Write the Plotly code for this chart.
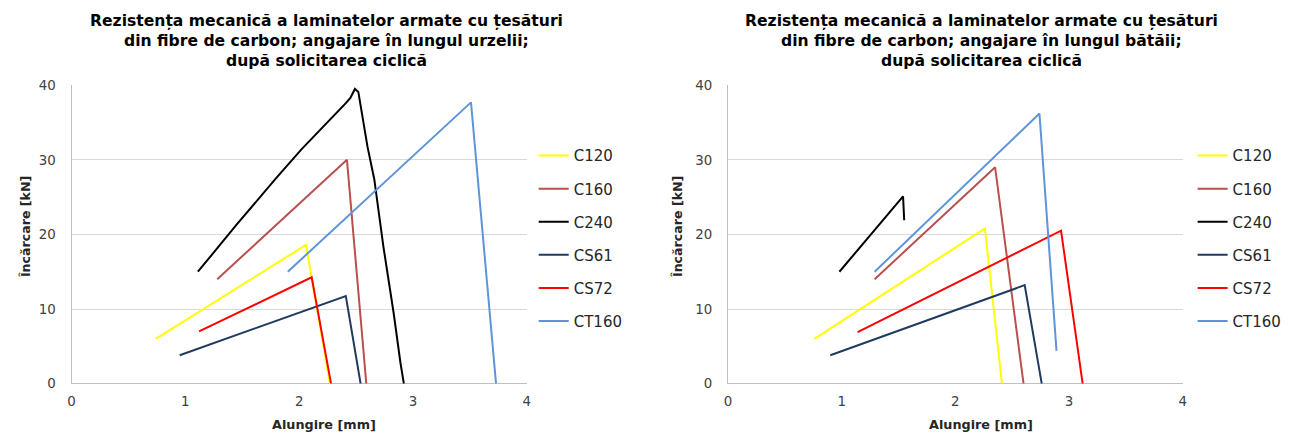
import plotly.graph_objects as go

# Load-elongation curves (elongation in mm, load in kN)
series_names = ["C120", "C160", "C240", "CS61", "CS72", "CT160"]

# Warp direction (left panel)
warp_c120_x = [0.74, 2.06, 2.27]
warp_c120_y = [6.0, 18.6, 0.0]
warp_c160_x = [1.28, 2.42, 2.59]
warp_c160_y = [14.0, 30.0, 0.0]
warp_c240_x = [1.11, 1.45, 1.79, 2.02, 2.41, 2.45, 2.49, 2.52, 2.60, 2.66, 2.74, 2.83, 2.89, 2.92]
warp_c240_y = [15.0, 21.3, 27.4, 31.4, 37.6, 38.3, 39.5, 39.1, 31.8, 27.4, 18.4, 9.5, 2.8, 0.0]
warp_cs61_x = [0.95, 2.41, 2.54]
warp_cs61_y = [3.8, 11.75, 0.0]
warp_cs72_x = [1.12, 2.11, 2.28]
warp_cs72_y = [7.0, 14.25, 0.0]
warp_ct160_x = [1.90, 3.51, 3.73]
warp_ct160_y = [15.0, 37.7, 0.0]

# Weft direction (right panel)
weft_c120_x = [0.76, 2.26, 2.41]
weft_c120_y = [6.0, 20.8, 0.0]
weft_c160_x = [1.29, 2.35, 2.60]
weft_c160_y = [14.0, 29.0, 0.0]
weft_c240_x = [0.98, 1.54, 1.55]
weft_c240_y = [15.0, 25.1, 21.9]
weft_cs61_x = [0.90, 2.61, 2.76]
weft_cs61_y = [3.8, 13.2, 0.0]
weft_cs72_x = [1.14, 2.93, 3.12]
weft_cs72_y = [6.9, 20.5, 0.0]
weft_ct160_x = [1.29, 2.74, 2.89]
weft_ct160_y = [15.0, 36.2, 4.4]

x_ticks = [0, 1, 2, 3, 4]
y_ticks = [0, 10, 20, 30, 40]

colors = ["#FFFF00", "#B9504D", "#000000", "#1F3B60", "#FF0000", "#5E95D9"]

warp = [(warp_c120_x, warp_c120_y), (warp_c160_x, warp_c160_y), (warp_c240_x, warp_c240_y),
        (warp_cs61_x, warp_cs61_y), (warp_cs72_x, warp_cs72_y), (warp_ct160_x, warp_ct160_y)]
weft = [(weft_c120_x, weft_c120_y), (weft_c160_x, weft_c160_y), (weft_c240_x, weft_c240_y),
        (weft_cs61_x, weft_cs61_y), (weft_cs72_x, weft_cs72_y), (weft_ct160_x, weft_ct160_y)]

title_left = ["Rezistența mecanică a laminatelor armate cu țesături",
              "din fibre de carbon; angajare în lungul urzelii;",
              "după solicitarea ciclică"]
title_right = ["Rezistența mecanică a laminatelor armate cu țesături",
               "din fibre de carbon; angajare în lungul bătăii;",
               "după solicitarea ciclică"]
x_title = "Alungire [mm]"
y_title = "Încărcare [kN]"

W, H = 1296, 438
FONT = "DejaVu Sans, Liberation Sans, sans-serif"

fig = go.Figure()

for i, (name, (xs, ys)) in enumerate(zip(series_names, warp)):
    fig.add_trace(go.Scatter(x=xs, y=ys, mode="lines", name=name,
                             line=dict(color=colors[i], width=2),
                             xaxis="x", yaxis="y", legend="legend",
                             legendgroup="a" + name))
for i, (name, (xs, ys)) in enumerate(zip(series_names, weft)):
    fig.add_trace(go.Scatter(x=xs, y=ys, mode="lines", name=name,
                             line=dict(color=colors[i], width=2),
                             xaxis="x2", yaxis="y2", legend="legend2",
                             legendgroup="b" + name))

def px_x(p):
    return p / W

def px_y(p):
    return 1 - p / H

y_dom = [px_y(390), px_y(81)]

axis_common = dict(range=[0, 4], tickvals=x_ticks, showgrid=False, zeroline=False,
                   showline=False, ticks="", ticklabelstandoff=8,
                   tickfont=dict(family=FONT, size=13.4, color="#404040"), fixedrange=True)
yaxis_common = dict(range=[0, 40], tickvals=y_ticks, showgrid=True, gridcolor="#D9D9D9",
                    gridwidth=1, zeroline=True, zerolinecolor="#BFBFBF", zerolinewidth=1,
                    showline=True, linecolor="#BFBFBF", linewidth=1, ticks="",
                    ticklabelstandoff=12,
                    tickfont=dict(family=FONT, size=13.4, color="#404040"), fixedrange=True)

legend_common = dict(font=dict(family=FONT, size=15, color="#262626"),
                     bgcolor="rgba(0,0,0,0)", borderwidth=0, tracegroupgap=10.6,
                     traceorder="grouped", xanchor="left", yanchor="top",
                     itemclick=False, itemdoubleclick=False)

fig.update_layout(
    width=W, height=H,
    margin=dict(l=0, r=0, t=0, b=0),
    paper_bgcolor="white", plot_bgcolor="white",
    xaxis=dict(domain=[px_x(68), px_x(526)], anchor="y", **axis_common),
    yaxis=dict(domain=y_dom, anchor="x", **yaxis_common),
    xaxis2=dict(domain=[px_x(728.5), px_x(1186)], anchor="y2", **axis_common),
    yaxis2=dict(domain=y_dom, anchor="x2", **yaxis_common),
    legend=dict(x=px_x(533), y=px_y(137), **legend_common),
    legend2=dict(x=px_x(1196), y=px_y(137), **legend_common),
)

annotations = []
title_rows = [14, 35, 56]
for cx, lines in ((324, title_left), (984, title_right)):
    for k, line in enumerate(lines):
        annotations.append(dict(text="<b>%s</b>" % line, x=px_x(cx), y=px_y(title_rows[k]),
                                xref="paper", yref="paper", xanchor="center", yanchor="middle",
                                showarrow=False,
                                font=dict(family=FONT, size=15.6, color="#000000")))
for cx in (322, 983):
    annotations.append(dict(text="<b>%s</b>" % x_title, x=px_x(cx), y=px_y(432),
                            xref="paper", yref="paper", xanchor="center", yanchor="middle",
                            showarrow=False, font=dict(family=FONT, size=12.8, color="#262626")))
for cx in (21, 677):
    annotations.append(dict(text="<b>%s</b>" % y_title, x=px_x(cx), y=px_y(227),
                            xref="paper", yref="paper", xanchor="center", yanchor="middle",
                            textangle=-90, showarrow=False,
                            font=dict(family=FONT, size=12.6, color="#262626")))
fig.update_layout(annotations=annotations)

# Pin the figure to the top-left corner of the page
fig.write_html("out.html",
               post_script="document.body.style.margin='0';"
                           "var d=document.getElementById('{plot_id}');"
                           "d.style.position='fixed';d.style.left='0px';d.style.top='0px';")
